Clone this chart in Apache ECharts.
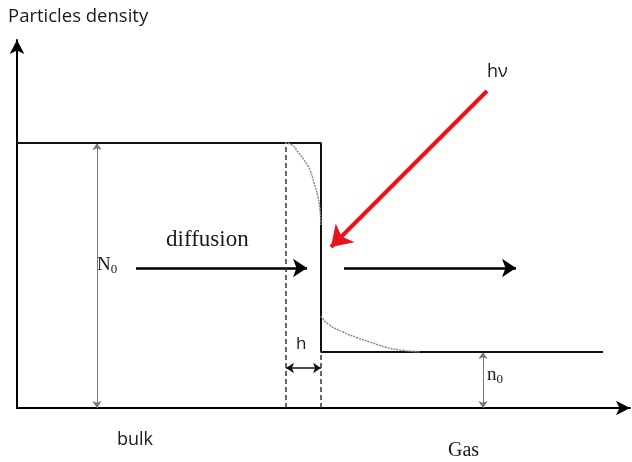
<!DOCTYPE html>
<html>
<head>
<meta charset="utf-8">
<script src="https://cdn.jsdelivr.net/npm/echarts@6/dist/echarts.min.js"></script>
<style>
  html, body { margin: 0; padding: 0; background: #fff; }
  #main { width: 632px; height: 462px; }
</style>
</head>
<body>
<div id="main"></div>
<script>
// density profile (x: position, y: particle density)
var profileX = [0, 304, 304, 586];
var profileY = [265, 265, 56, 56];

// dashed guides
var dashBulk = [[269, 0], [269, 265]];
var dashSurf = [[304, 0], [304, 56]];

var curveIn = [[268, 265], [275, 263], [281, 256], [287, 248], [293, 238], [297, 225], [301, 211], [303, 198], [304, 183]];
var curveOut = [[304, 92], [311, 84], [326, 76], [341, 70], [353, 66], [368, 61], [383, 58], [403, 56]];

// arrows
var diffArrows = [
    [[119, 140], [290, 140]],
    [[327, 140], [499, 140]]
];
var N0Arrow = [[80, 265], [80, 0]];
var n0Arrow = [[466, 56], [466, 0]];
var hArrow = [[269, 40], [304, 40]];
var lightArrow = [[470, 317], [314, 161]];

var toPairs = function (xs, ys) {
    return xs.map(function (x, i) { return [x, ys[i]]; });
};

var option = {
    animation: false,
    backgroundColor: '#fff',
    grid: { left: 17, right: 2, top: 40, bottom: 54 },
    xAxis: {
        type: 'value', min: 0, max: 613,
        axisLine: { show: true, symbol: ['none', 'arrow'], symbolSize: [11, 14], lineStyle: { color: '#000', width: 2 } },
        axisTick: { show: false }, axisLabel: { show: false }, splitLine: { show: false }
    },
    yAxis: {
        type: 'value', min: 0, max: 368,
        axisLine: { show: true, symbol: ['none', 'arrow'], symbolSize: [11, 14], lineStyle: { color: '#000', width: 2 } },
        axisTick: { show: false }, axisLabel: { show: false }, splitLine: { show: false }
    },
    series: [
        {
            type: 'line', data: toPairs(profileX, profileY), symbol: 'none',
            lineStyle: { color: '#111', width: 2 }
        },
        {
            type: 'line', data: dashBulk, symbol: 'none',
            lineStyle: { color: '#333', width: 1.5, type: [5, 3] }
        },
        {
            type: 'line', data: dashSurf, symbol: 'none',
            lineStyle: { color: '#333', width: 1.5, type: [5, 3] }
        },
        {
            type: 'line', data: curveIn, symbol: 'none', smooth: true,
            lineStyle: { color: '#8a8a8a', width: 1.5, type: [2, 1] }
        },
        {
            type: 'line', data: curveOut, symbol: 'none', smooth: true,
            lineStyle: { color: '#8a8a8a', width: 1.5, type: [2, 1] }
        },
        {
            type: 'lines', coordinateSystem: 'cartesian2d',
            symbol: ['none', 'arrow'], symbolSize: 14,
            lineStyle: { color: '#000', width: 2.5, opacity: 1, curveness: 0 },
            data: diffArrows.map(function (c) { return { coords: c }; })
        },
        {
            type: 'lines', coordinateSystem: 'cartesian2d',
            symbol: ['arrow', 'arrow'], symbolSize: 7,
            lineStyle: { color: '#777', width: 1, opacity: 1 },
            data: [{ coords: N0Arrow }, { coords: n0Arrow }]
        },
        {
            type: 'lines', coordinateSystem: 'cartesian2d',
            symbol: ['arrow', 'arrow'], symbolSize: 8,
            lineStyle: { color: '#111', width: 1.5, opacity: 1 },
            data: [{ coords: hArrow }]
        },
        {
            type: 'lines', coordinateSystem: 'cartesian2d',
            symbol: ['none', 'arrow'], symbolSize: 20,
            lineStyle: { color: '#e8141c', width: 4, opacity: 1 },
            data: [{ coords: lightArrow }]
        }
    ],
    graphic: [
        { type: 'text', left: 8, top: 7, style: { text: 'Particles density', font: '18.5px "Open Sans"', fill: '#1a1a1a' } },
        { type: 'text', left: 487, top: 63, style: { text: 'hν', font: '18px "Open Sans"', fill: '#1a1a1a' } },
        { type: 'text', left: 166, top: 228, style: { text: 'diffusion', font: '23px "Liberation Serif"', fill: '#1a1a1a' } },
        {
            type: 'text', left: 97, top: 256,
            style: {
                text: '{n|N}{s|0}', fill: '#1a1a1a',
                rich: { n: { font: '19px "Liberation Serif"' }, s: { font: '13px "Liberation Serif"', padding: [9, 0, 0, 0] } }
            }
        },
        { type: 'text', left: 296, top: 336, style: { text: 'h', font: '17px "Open Sans"', fill: '#1a1a1a' } },
        {
            type: 'text', left: 487, top: 366,
            style: {
                text: '{n|n}{s|0}', fill: '#1a1a1a',
                rich: { n: { font: '19px "Liberation Serif"' }, s: { font: '13px "Liberation Serif"', padding: [9, 0, 0, 0] } }
            }
        },
        { type: 'text', left: 117, top: 431, style: { text: 'bulk', font: '18px "Open Sans"', fill: '#1a1a1a' } },
        { type: 'text', left: 448, top: 441, style: { text: 'Gas', font: '20px "Liberation Serif"', fill: '#1a1a1a' } }
    ]
};

var myChart = echarts.init(document.getElementById('main'));
myChart.setOption(option);
</script>
</body>
</html>
